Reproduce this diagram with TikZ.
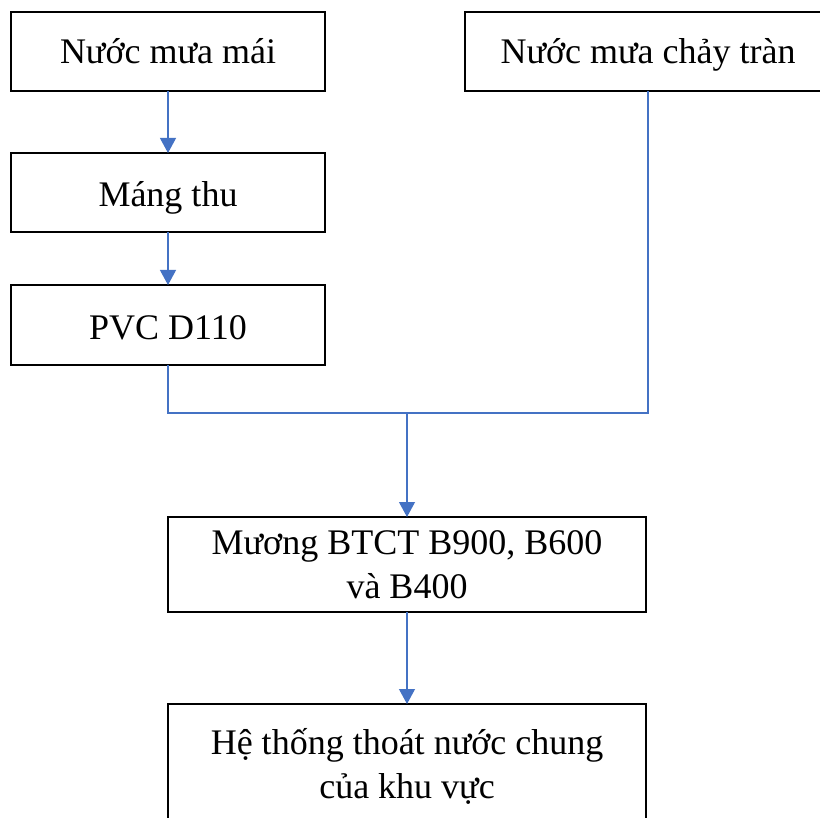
\documentclass[tikz,border=0pt]{standalone}
\usepackage{fontspec}
\setmainfont{Liberation Serif}
\usetikzlibrary{arrows.meta}
\definecolor{lineblue}{HTML}{4472C4}
\tikzset{
  box/.style={draw=black, line width=2pt, inner sep=0pt, outer sep=0pt,
    font=\fontsize{36}{44}\selectfont},
  onebox/.style={box, text height=29pt, text depth=0pt},
  twobox/.style={box, align=center},
  flow/.style={draw=lineblue, line width=1.1pt},
  arr/.style={flow, -{Triangle[width=16pt,length=15pt]}}
}
\begin{document}
\begin{tikzpicture}[x=1pt,y=-1pt]
\clip (0,0) rectangle (820,818);
\fill[white] (0,0) rectangle (820,818);
% left column
\node[onebox, text depth=6pt, minimum width=314pt, minimum height=79pt] (mai) at (168,52) {Nước mưa mái};
\node[onebox, minimum width=314pt, minimum height=79pt] (mang) at (168,192.5) {Máng thu};
\node[onebox, minimum width=314pt, minimum height=80pt] (pvc) at (168,325) {PVC D110};
% right box, cut by the page edge
\node[onebox, text depth=6pt, minimum width=366pt, minimum height=79pt] (tran) at (648,52) {Nước mưa chảy tràn};
% lower column
\node[twobox, minimum width=478pt, minimum height=95pt] (muong) at (407,564.5) {Mương BTCT B900, B600\\và B400};
\node[twobox, minimum width=478pt, minimum height=124pt] (he) at (407,766) {Hệ thống thoát nước chung\\của khu vực};
\coordinate (join) at (muong.north |- 0,413);
\draw[arr] (mai) -- (mang);
\draw[arr] (mang) -- (pvc);
\draw[flow] (pvc.south) |- (join) -| (tran.south);
\draw[arr] (join) -- (muong);
\draw[arr] (muong) -- (he);
\end{tikzpicture}
\end{document}
